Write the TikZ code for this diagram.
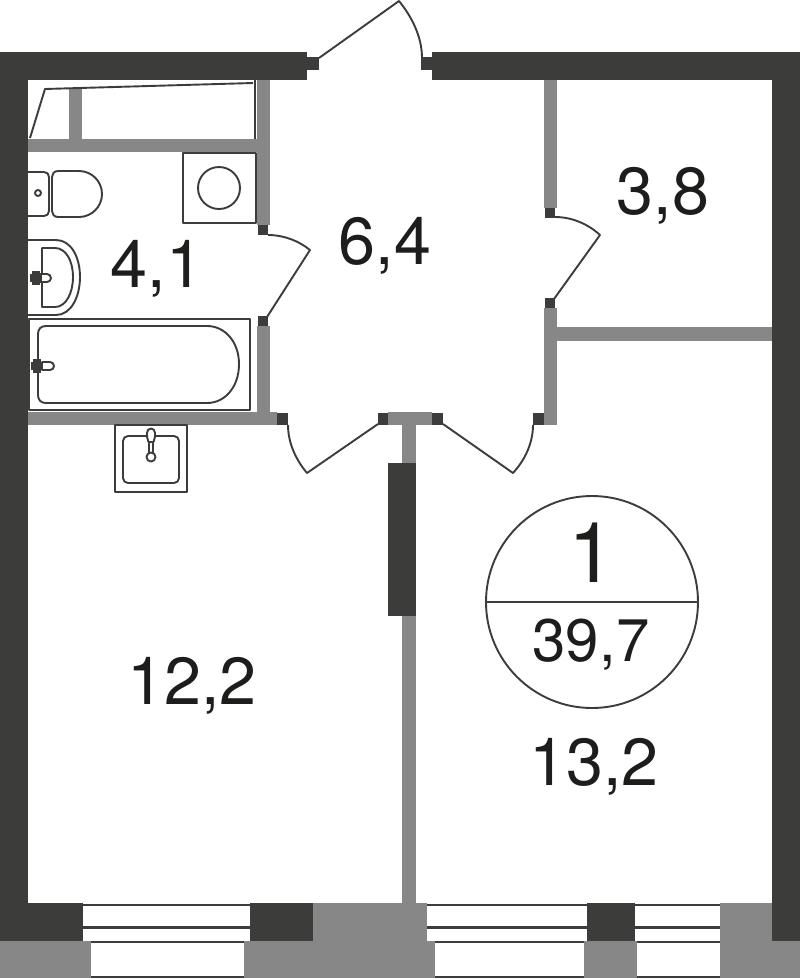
\documentclass[tikz,border=0pt]{standalone}
\usepackage{fontspec}
\setmainfont{TeX Gyre Heros}
\definecolor{walldark}{HTML}{3C3C3A}
\definecolor{wallgray}{HTML}{878787}
\definecolor{inktext}{HTML}{1D1D1B}
\tikzset{
  dark/.style={fill=walldark},
  gray/.style={fill=wallgray},
  line/.style={draw=walldark,line width=1.9pt,line join=round},
  area/.style={text=inktext,font=\fontsize{66.5}{66.5}\selectfont,inner sep=0pt},
}
\begin{document}
\begin{tikzpicture}[x=1pt,y=-1pt]
            \useasboundingbox (0,0) rectangle (800,978);
            \fill[white] (0,0) rectangle (800,978);

            % Outer walls
            \fill[dark] (0,52) rectangle (307,80);
            \fill[dark] (432,52) rectangle (800,80);
            \fill[dark] (307,57) rectangle (319,70);
            \fill[dark] (421,57) rectangle (432,70);
            \fill[dark] (0,52) rectangle (28,941);
            \fill[dark] (772,52) rectangle (800,941);

            % Bottom wall
            \fill[dark] (0,903) rectangle (83,941);
            \fill[dark] (250,903) rectangle (313,941);
            \fill[dark] (587,903) rectangle (635,941);
            \fill[gray] (313,903) rectangle (427,941);
            \fill[gray] (720,903) rectangle (772,941);
            \fill[gray] (0,941) rectangle (91,978);
            \fill[gray] (244,941) rectangle (435,978);
            \fill[gray] (584,941) rectangle (637,978);
            \fill[gray] (720,941) rectangle (800,978);

            % Windows
            \fill[dark] (83,904) rectangle (250,906);
            \fill[dark] (83,926) rectangle (250,928.5);
            \fill[dark] (91,941) rectangle (244,943);
            \fill[dark] (91,976) rectangle (244,978);
            \fill[dark] (427,904) rectangle (587,906);
            \fill[dark] (427,926) rectangle (587,928.5);
            \fill[dark] (435,941) rectangle (584,943);
            \fill[dark] (435,976) rectangle (584,978);
            \fill[dark] (635,904) rectangle (720,906);
            \fill[dark] (635,926) rectangle (720,928.5);
            \fill[dark] (637,941) rectangle (720,943);
            \fill[dark] (637,976) rectangle (720,978);

            % Partitions
            \fill[gray] (28,139) rectangle (269,152);
            \fill[gray] (69,88) rectangle (82,139);
            \fill[gray] (257,80) rectangle (270,225);
            \fill[gray] (257,326) rectangle (270,412);
            \fill[gray] (28,412) rectangle (277,425);
            \fill[gray] (544,80) rectangle (557,208);
            \fill[gray] (544,308) rectangle (557,425);
            \fill[gray] (557,327) rectangle (772,341);
            \fill[gray] (388,412) rectangle (432,425);
            \fill[gray] (402,425) rectangle (416,463);
            \fill[gray] (402,616) rectangle (416,903);
            \fill[dark] (388,463) rectangle (416,616);

            % Door stubs
            \fill[dark] (258,225) rectangle (268,235);
            \fill[dark] (258,316) rectangle (268,326);
            \fill[dark] (545,208) rectangle (555,218);
            \fill[dark] (545,298) rectangle (555,308);
            \fill[dark] (277,413) rectangle (288,425);
            \fill[dark] (378,413) rectangle (388,425);
            \fill[dark] (432,413) rectangle (443,425);
            \fill[dark] (533,413) rectangle (544,425);

            % Doors
            \draw[line] (319,58) -- (399,1) .. controls (412,17) and (422,37) .. (422,58);
            \draw[line] (268,235) .. controls (284,235) and (299,241) .. (310,250) -- (267,317);
            \draw[line] (555,217) .. controls (572,217) and (588,224) .. (600,235) -- (554,299);
            \draw[line] (288,425) .. controls (288,443) and (296,460) .. (307,473) -- (378,424);
            \draw[line] (443,424) -- (513,473) .. controls (525,460) and (533,443) .. (533,425);

            % Niche
            \draw[line] (30,138) -- (45,89) -- (253,83);
            \draw[line] (255,80) -- (255,139);

            % Washer
            \draw[line] (183,153) rectangle (256,223);
            \draw[line] (219,188) circle (21);

            % Toilet
            \draw[line] (28,172) -- (44,172) .. controls (47,172) and (49,174) .. (49,177) -- (49,211) .. controls (49,214) and (47,216) .. (44,216) -- (28,216);
            \draw[line] (58,171) -- (79,171) arc (-90:90:23) -- (58,217) .. controls (54,217) and (52,214) .. (52,211) -- (52,177) .. controls (52,174) and (54,171) .. (58,171);
            \draw[line] (38,193) circle (3);

            % Basin
            \draw[line] (28,240) -- (56,240) .. controls (71,240) and (80,257) .. (80,277) .. controls (80,297) and (71,315) .. (56,315) -- (28,315);
            \draw[line] (42,248) -- (55,248) .. controls (66,248) and (73,261) .. (73,277) .. controls (73,293) and (66,307) .. (55,307) -- (42,307) -- cycle;
            \draw[line,fill=white] (40,274) -- (47,274) arc (-90:90:4) -- (40,282) -- cycle;
            \fill[dark] (30,274) rectangle (42,282);
            \fill[dark] (32,271) rectangle (40,285);

            % Bath
            \draw[line] (29,319) rectangle (250,410);
            \draw[line] (100,326) -- (46,326) .. controls (41,326) and (38,329) .. (38,334) -- (38,395) .. controls (38,400) and (41,403) .. (46,403) -- (207,403) .. controls (225,403) and (239,387) .. (239,364) .. controls (239,342) and (225,326) .. (207,326) -- cycle;
            \draw[line,fill=white] (42,362) -- (50,362) arc (-90:90:4) -- (42,370) -- cycle;
            \fill[dark] (31,362) rectangle (43,370);
            \fill[dark] (33,359) rectangle (41,373);

            % Kitchen sink
            \draw[line] (115,425) rectangle (187,492);
            \draw[line,rounded corners=5pt] (123,436) rectangle (179,483);
            \draw[line,fill=white] (151,428.5) .. controls (156,428.5) and (156,436) .. (153.5,442) -- (148.5,442) .. controls (146,436) and (146,428.5) .. (151,428.5);
            \draw[line] (149,442) -- (149,453);
            \draw[line] (153,442) -- (153,453);
            \draw[line,fill=white] (151,457) circle (4.5);

            % Apartment mark
            \draw[line] (592,602) circle (106);
            \draw[line,line width=2.3pt] (486,602) -- (698,602);
            \node[text=inktext,font=\fontsize{84}{84}\selectfont,inner sep=0pt] (rooms) at (592,553) {1};
            \node[text=inktext,font=\fontsize{60}{60}\selectfont,inner sep=0pt] (total) at (591,645) {39,7};

            % Areas
            \node[area] (bath) at (157,269) {4,1};
            \node[area] (hall) at (385,246) {6,4};
            \node[area] (closet) at (663,196) {3,8};
            \node[area] (kitchen) at (192,686) {12,2};
            \node[area] (room) at (594,767) {13,2};
\end{tikzpicture}
\end{document}
